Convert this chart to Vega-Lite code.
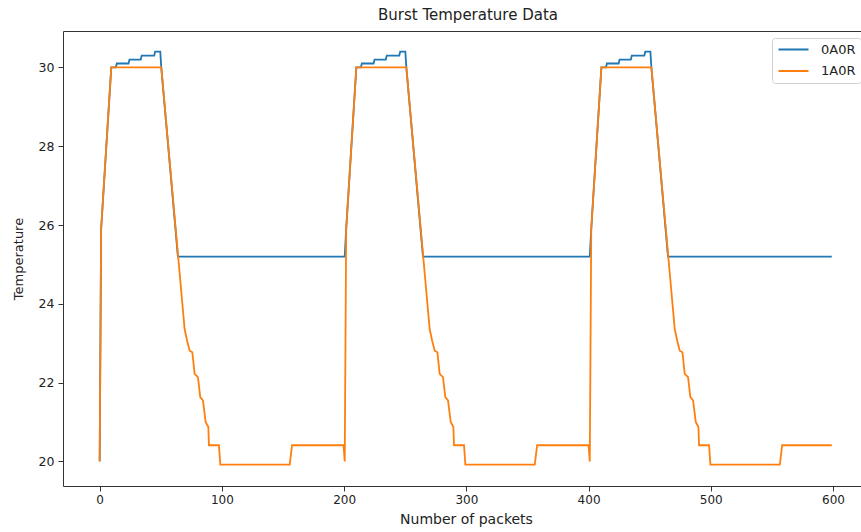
{
  "$schema": "https://vega.github.io/schema/vega-lite/v6.json",
  "autosize": "none",
  "width": 798,
  "height": 455,
  "padding": {"left": 63, "top": 31, "right": 0, "bottom": 46},
  "background": "white",
  "title": {"text": "Burst Temperature Data", "fontSize": 15, "font": "DejaVu Sans", "fontWeight": "normal", "color": "#222", "anchor": "middle", "dx": 6, "offset": 8},
  "data": {"values": [
    {"x": 0, "y": 20, "s": "0A0R"}, {"x": 1.2, "y": 25.9, "s": "0A0R"}, {"x": 9.5, "y": 30, "s": "0A0R"}, {"x": 13.2, "y": 30, "s": "0A0R"}, {"x": 14, "y": 30.1, "s": "0A0R"}, {"x": 23.6, "y": 30.1, "s": "0A0R"}, {"x": 24.4, "y": 30.2, "s": "0A0R"}, {"x": 33.6, "y": 30.2, "s": "0A0R"}, {"x": 34.4, "y": 30.3, "s": "0A0R"}, {"x": 44.6, "y": 30.3, "s": "0A0R"}, {"x": 45.4, "y": 30.4, "s": "0A0R"}, {"x": 49.6, "y": 30.4, "s": "0A0R"}, {"x": 50.4, "y": 30, "s": "0A0R"}, {"x": 64, "y": 25.2, "s": "0A0R"},
    {"x": 200.5, "y": 25.2, "s": "0A0R"}, {"x": 201.7, "y": 25.9, "s": "0A0R"}, {"x": 210, "y": 30, "s": "0A0R"}, {"x": 213.7, "y": 30, "s": "0A0R"}, {"x": 214.5, "y": 30.1, "s": "0A0R"}, {"x": 224.1, "y": 30.1, "s": "0A0R"}, {"x": 224.9, "y": 30.2, "s": "0A0R"}, {"x": 234.1, "y": 30.2, "s": "0A0R"}, {"x": 234.9, "y": 30.3, "s": "0A0R"}, {"x": 245.1, "y": 30.3, "s": "0A0R"}, {"x": 245.9, "y": 30.4, "s": "0A0R"}, {"x": 250.1, "y": 30.4, "s": "0A0R"}, {"x": 250.9, "y": 30, "s": "0A0R"}, {"x": 264.5, "y": 25.2, "s": "0A0R"},
    {"x": 401, "y": 25.2, "s": "0A0R"}, {"x": 402.2, "y": 25.9, "s": "0A0R"}, {"x": 410.5, "y": 30, "s": "0A0R"}, {"x": 414.2, "y": 30, "s": "0A0R"}, {"x": 415, "y": 30.1, "s": "0A0R"}, {"x": 424.6, "y": 30.1, "s": "0A0R"}, {"x": 425.4, "y": 30.2, "s": "0A0R"}, {"x": 434.6, "y": 30.2, "s": "0A0R"}, {"x": 435.4, "y": 30.3, "s": "0A0R"}, {"x": 445.6, "y": 30.3, "s": "0A0R"}, {"x": 446.4, "y": 30.4, "s": "0A0R"}, {"x": 450.6, "y": 30.4, "s": "0A0R"}, {"x": 451.4, "y": 30, "s": "0A0R"}, {"x": 465, "y": 25.2, "s": "0A0R"}, {"x": 599, "y": 25.2, "s": "0A0R"},
    {"x": 0, "y": 20, "s": "1A0R"}, {"x": 1.2, "y": 25.9, "s": "1A0R"}, {"x": 9.5, "y": 30, "s": "1A0R"}, {"x": 50.4, "y": 30, "s": "1A0R"}, {"x": 69.5, "y": 23.36, "s": "1A0R"}, {"x": 71.5, "y": 23.07, "s": "1A0R"}, {"x": 73.6, "y": 22.81, "s": "1A0R"}, {"x": 75.8, "y": 22.77, "s": "1A0R"}, {"x": 77.7, "y": 22.22, "s": "1A0R"}, {"x": 80.4, "y": 22.14, "s": "1A0R"}, {"x": 82.3, "y": 21.63, "s": "1A0R"}, {"x": 84.5, "y": 21.55, "s": "1A0R"}, {"x": 86.7, "y": 21.0, "s": "1A0R"}, {"x": 88.9, "y": 20.87, "s": "1A0R"}, {"x": 89.4, "y": 20.41, "s": "1A0R"}, {"x": 97.6, "y": 20.41, "s": "1A0R"}, {"x": 98.7, "y": 19.92, "s": "1A0R"}, {"x": 155.5, "y": 19.92, "s": "1A0R"}, {"x": 157.4, "y": 20.41, "s": "1A0R"}, {"x": 199.5, "y": 20.41, "s": "1A0R"},
    {"x": 200.5, "y": 20, "s": "1A0R"}, {"x": 201.7, "y": 25.9, "s": "1A0R"}, {"x": 210, "y": 30, "s": "1A0R"}, {"x": 250.9, "y": 30, "s": "1A0R"}, {"x": 270, "y": 23.36, "s": "1A0R"}, {"x": 272, "y": 23.07, "s": "1A0R"}, {"x": 274.1, "y": 22.81, "s": "1A0R"}, {"x": 276.3, "y": 22.77, "s": "1A0R"}, {"x": 278.2, "y": 22.22, "s": "1A0R"}, {"x": 280.9, "y": 22.14, "s": "1A0R"}, {"x": 282.8, "y": 21.63, "s": "1A0R"}, {"x": 285, "y": 21.55, "s": "1A0R"}, {"x": 287.2, "y": 21.0, "s": "1A0R"}, {"x": 289.4, "y": 20.87, "s": "1A0R"}, {"x": 289.9, "y": 20.41, "s": "1A0R"}, {"x": 298.1, "y": 20.41, "s": "1A0R"}, {"x": 299.2, "y": 19.92, "s": "1A0R"}, {"x": 356, "y": 19.92, "s": "1A0R"}, {"x": 357.9, "y": 20.41, "s": "1A0R"}, {"x": 400, "y": 20.41, "s": "1A0R"},
    {"x": 401, "y": 20, "s": "1A0R"}, {"x": 402.2, "y": 25.9, "s": "1A0R"}, {"x": 410.5, "y": 30, "s": "1A0R"}, {"x": 451.4, "y": 30, "s": "1A0R"}, {"x": 470.5, "y": 23.36, "s": "1A0R"}, {"x": 472.5, "y": 23.07, "s": "1A0R"}, {"x": 474.6, "y": 22.81, "s": "1A0R"}, {"x": 476.8, "y": 22.77, "s": "1A0R"}, {"x": 478.7, "y": 22.22, "s": "1A0R"}, {"x": 481.4, "y": 22.14, "s": "1A0R"}, {"x": 483.3, "y": 21.63, "s": "1A0R"}, {"x": 485.5, "y": 21.55, "s": "1A0R"}, {"x": 487.7, "y": 21.0, "s": "1A0R"}, {"x": 489.9, "y": 20.87, "s": "1A0R"}, {"x": 490.4, "y": 20.41, "s": "1A0R"}, {"x": 498.6, "y": 20.41, "s": "1A0R"}, {"x": 499.7, "y": 19.92, "s": "1A0R"}, {"x": 556.5, "y": 19.92, "s": "1A0R"}, {"x": 558.4, "y": 20.41, "s": "1A0R"}, {"x": 599, "y": 20.41, "s": "1A0R"}
  ]},
  "layer": [
    {
      "mark": {"type": "line", "strokeWidth": 1.8, "clip": true},
      "encoding": {
        "x": {"field": "x", "type": "quantitative",
          "scale": {"domain": [-30, 622.9], "nice": false, "zero": false},
          "axis": {"orient": "bottom", "values": [0, 100, 200, 300, 400, 500, 600], "title": "Number of packets", "grid": false, "titlePadding": 7, "titleFontSize": 14, "titleX": 403, "labelFontSize": 12, "labelPadding": 3}},
        "y": {"field": "y", "type": "quantitative",
          "scale": {"domain": [19.375, 30.925], "nice": false, "zero": false},
          "axis": {"values": [20, 22, 24, 26, 28, 30], "title": "Temperature", "grid": false, "titleFontSize": 13, "titleX": -45, "titleBaseline": "middle", "labelFontSize": 12.5, "labelPadding": 4}},
        "color": {"field": "s", "type": "nominal",
          "scale": {"domain": ["0A0R", "1A0R"], "range": ["#1f77b4", "#ff7f0e"]},
          "legend": {"title": null, "orient": "none", "legendX": 709, "legendY": 7, "symbolType": "M-1,0H5", "symbolSize": 100, "symbolStrokeWidth": 2, "labelFontSize": 13, "labelFont": "DejaVu Sans", "labelColor": "#222", "fillColor": "white", "strokeColor": "#d0d0d0", "cornerRadius": 3, "padding": 5, "rowPadding": 7.5, "labelOffset": 31}},
        "order": {"field": "x", "type": "quantitative"}
      }
    },
    {
      "mark": {"type": "line", "strokeOpacity": 0},
      "encoding": {
        "x": {"field": "x", "type": "quantitative",
          "axis": {"orient": "top", "labels": false, "ticks": false, "domain": true, "title": null, "grid": false}},
        "y": {"field": "y", "type": "quantitative"}
      }
    }
  ],
  "resolve": {"axis": {"x": "independent"}},
  "config": {
    "view": {"stroke": null},
    "axis": {"domain": true, "domainColor": "#333", "domainWidth": 1, "tickColor": "#333", "tickSize": 5, "labelFont": "DejaVu Sans", "labelColor": "#222", "titleFont": "DejaVu Sans", "titleFontWeight": "normal", "titleColor": "#222"}
  }
}
